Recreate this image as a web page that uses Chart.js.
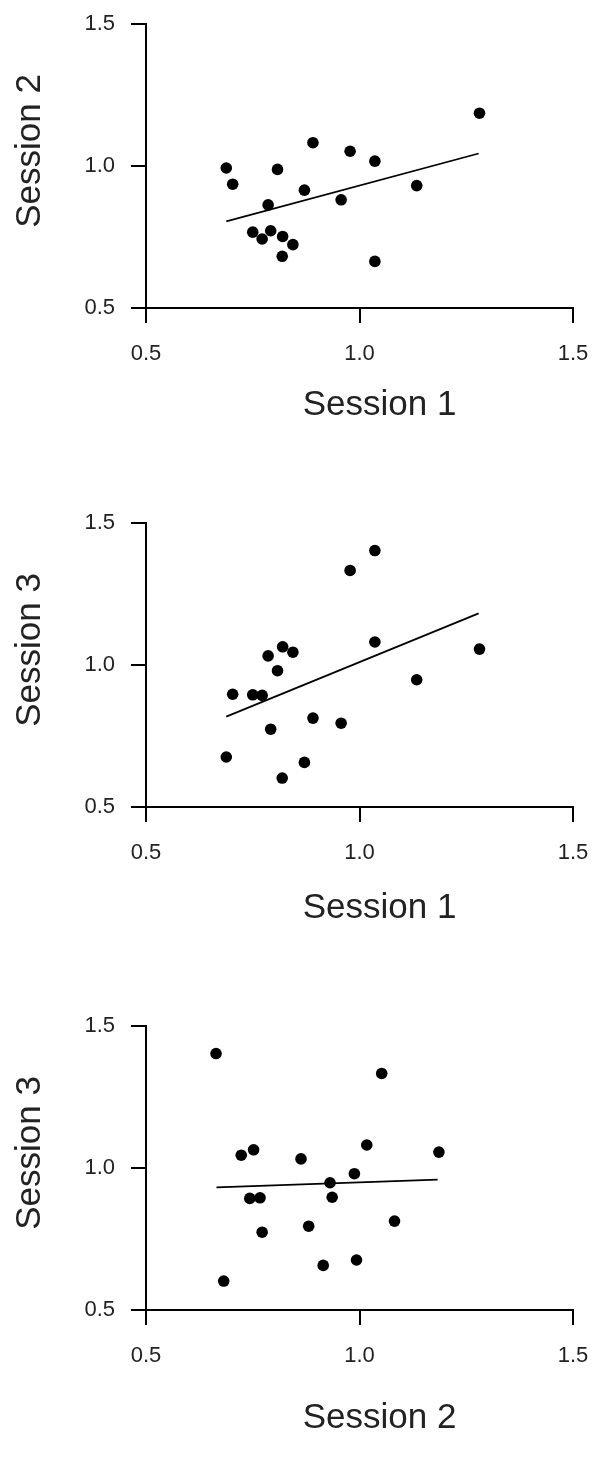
<!DOCTYPE html>
<html>
<head>
<meta charset="utf-8">
<script src="https://cdn.jsdelivr.net/npm/chart.js@4.4.1/dist/chart.umd.min.js"></script>
<style>
  body { margin: 0; background: #fff; }
  .panel { position: absolute; left: 0; }
</style>
</head>
<body>
<div class="panel" style="top:0px"><canvas id="c12" width="595" height="460"></canvas></div>
<div class="panel" style="top:499px"><canvas id="c13" width="595" height="460"></canvas></div>
<div class="panel" style="top:1002px"><canvas id="c23" width="595" height="464"></canvas></div>
<script>
// Scores per subject (same order in each session)
const session1 = [0.688, 0.703, 0.808, 0.891, 0.978, 1.036, 0.871, 0.957, 1.134, 1.281, 0.786, 0.750, 0.772, 0.792, 0.820, 0.844, 0.819, 1.036];
const session2 = [0.993, 0.936, 0.988, 1.082, 1.052, 1.017, 0.915, 0.881, 0.931, 1.186, 0.863, 0.767, 0.743, 0.772, 0.752, 0.723, 0.682, 0.664];
const session3 = [0.676, 0.897, 0.980, 0.813, 1.333, 1.081, 0.657, 0.795, 0.948, 1.056, 1.032, 0.895, 0.893, 0.774, 1.064, 1.045, 0.602, 1.403];

// Fitted lines, end points
const fit12X = [0.688, 1.279], fit12Y = [0.805, 1.044];
const fit13X = [0.688, 1.279], fit13Y = [0.818, 1.182];
const fit23X = [0.665, 1.183], fit23Y = [0.932, 0.959];

const axisTicks = [0.5, 1.0, 1.5];

const FONT = '"Liberation Sans", Arial, sans-serif';
Chart.defaults.font.family = FONT;
Chart.defaults.color = '#222';

const TITLE_FONT = 35;
const TICK_FONT = 22;

function toPoints(xs, ys) {
    return xs.map((x, i) => ({ x: x, y: ys[i] }));
}

// Axis titles sit a bit off-centre in the original, so draw them here
const axisTitles = {
    id: 'axisTitles',
    afterDraw(chart, args, opts) {
        const { ctx, chartArea } = chart;
        ctx.save();
        ctx.fillStyle = '#222';
        ctx.font = TITLE_FONT + 'px ' + FONT;
        ctx.textAlign = 'center';
        ctx.textBaseline = 'middle';
        const midX = (chartArea.left + chartArea.right) / 2;
        ctx.fillText(opts.xText, midX + 20, chartArea.bottom + opts.xGap);
        const midY = (chartArea.top + chartArea.bottom) / 2;
        ctx.translate(30, midY - 15);
        ctx.rotate(-Math.PI / 2);
        ctx.fillText(opts.yText, 0, 0);
        ctx.restore();
    }
};

function axisOptions(horizontal, panelHeight) {
    return {
        type: 'linear',
        min: axisTicks[0],
        max: axisTicks[axisTicks.length - 1],
        afterBuildTicks: s => { s.ticks = axisTicks.map(v => ({ value: v })); },
        ticks: {
            font: { size: TICK_FONT },
            color: '#222',
            padding: horizontal ? 18 : 16,
            callback: v => v.toFixed(1)
        },
        grid: { drawOnChartArea: false, drawTicks: true, tickLength: 15, color: '#000', lineWidth: 2 },
        border: { display: true, color: '#000', width: 2 },
        afterFit: s => {
            // fixed box sizes, no extra room for overhanging end labels
            if (horizontal) s.height = panelHeight - 308;
            else s.width = 146;
            s.paddingLeft = 0;
            s.paddingRight = 0;
            s.paddingTop = 0;
            s.paddingBottom = 0;
        }
    };
}

function makePanel(id, xs, ys, fitX, fitY, xTitle, yTitle, titleGap) {
    const canvas = document.getElementById(id);
    return new Chart(canvas.getContext('2d'), {
        type: 'scatter',
        data: {
            datasets: [
                {
                    data: toPoints(xs, ys),
                    backgroundColor: '#000',
                    borderWidth: 0,
                    pointRadius: 5.8
                },
                {
                    data: toPoints(fitX, fitY),
                    showLine: true,
                    borderColor: '#000',
                    borderWidth: 1.8,
                    pointRadius: 0
                }
            ]
        },
        options: {
            responsive: false,
            animation: false,
            layout: { padding: { top: 24, right: 22, left: 0, bottom: 0 } },
            plugins: {
                legend: { display: false },
                tooltip: { enabled: false },
                axisTitles: { xText: xTitle, yText: yTitle, xGap: titleGap }
            },
            scales: {
                x: axisOptions(true, canvas.height),
                y: axisOptions(false, canvas.height)
            }
        },
        plugins: [axisTitles]
    });
}

makePanel('c12', session1, session2, fit12X, fit12Y, 'Session 1', 'Session 2', 97);
makePanel('c13', session1, session3, fit13X, fit13Y, 'Session 1', 'Session 3', 101);
makePanel('c23', session2, session3, fit23X, fit23Y, 'Session 2', 'Session 3', 108);
</script>
</body>
</html>
